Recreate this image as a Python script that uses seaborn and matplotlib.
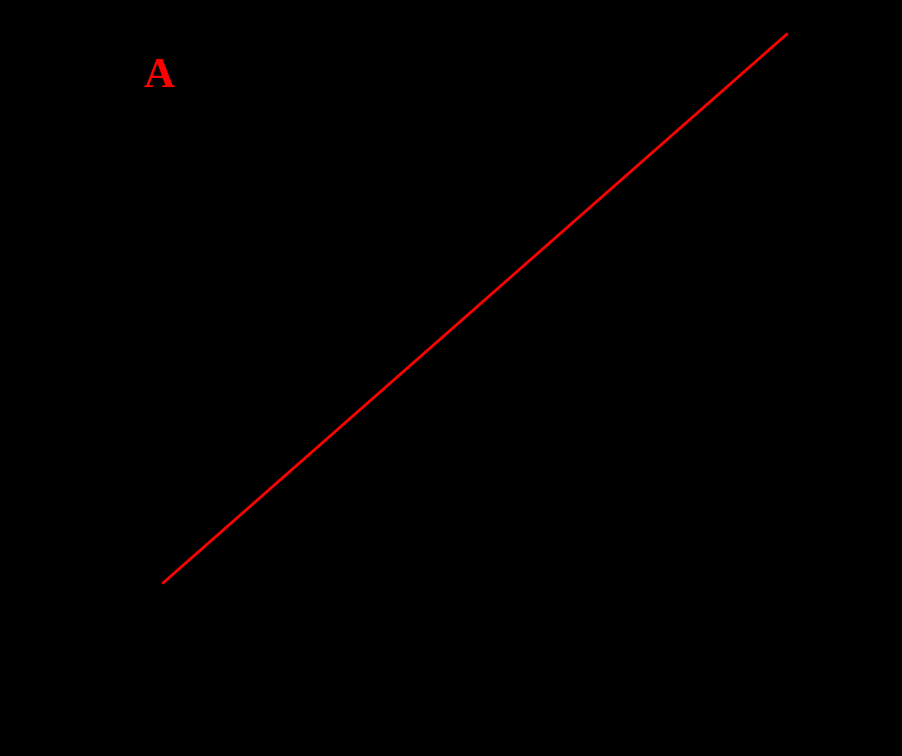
import matplotlib
matplotlib.use("Agg")
import matplotlib.pyplot as plt
import seaborn as sns

# fitted line endpoints (data units)
fit_x = [0.0, 1.0]
fit_y = [0.0, 1.0]
panel_label = "A"

sns.set_style("white")
fig = plt.figure(figsize=(9.02, 7.56), dpi=100)
fig.patch.set_facecolor("black")

# axes box matched to where the line sits in the reference
ax = fig.add_axes([163 / 902, 1 - 583 / 756, (787 - 163) / 902, (583 - 34) / 756])
ax.set_facecolor("black")

sns.lineplot(x=fit_x, y=fit_y, ax=ax, color="red", linewidth=2.0)
for line in ax.get_lines():
    line.set_clip_on(False)

ax.set_xlim(fit_x[0], fit_x[-1])
ax.set_ylim(fit_y[0], fit_y[-1])
ax.margins(0)
ax.tick_params(colors="black")
for spine in ax.spines.values():
    spine.set_visible(False)

fig.text(159 / 902, 1 - 77 / 756, panel_label, color="red", fontsize=31,
         fontweight="bold", family=["Liberation Serif", "DejaVu Serif"],
         ha="center", va="center")

plt.savefig("out.png", dpi=100, facecolor="black")
